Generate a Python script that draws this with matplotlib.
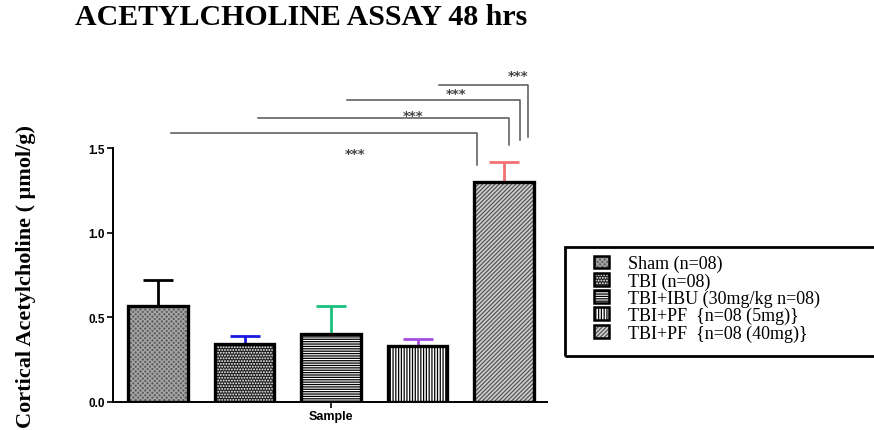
import matplotlib.pyplot as plt
from matplotlib.patches import Patch, Rectangle

groups = ["Sham (n=08)", "TBI (n=08)", "TBI+IBU (30mg/kg n=08)",
          "TBI+PF  {n=08 (5mg)}", "TBI+PF  {n=08 (40mg)}"]
means = [0.57, 0.34, 0.40, 0.33, 1.30]
sem = [0.15, 0.05, 0.17, 0.04, 0.12]
stars = ["***", "***", "***", "***"]

# styles
hatches = ["xxxxxxx", "......", "-------", "||||||", "////////"]
faces = ["#5e5e5e", "#1e1e1e", "white", "white", "#d0d0d0"]
hatch_colors = ["#a6a6a6", "white", "black", "black", "#555555"]
err_colors = ["black", "#1a1ae0", "#19c07a", "#a24de0", "#f07272"]

# bracket layout: (x_start, x_end, y_line, y_drop, star_x, star_y)
brackets = [
    (0.15, 3.69, 1.589, 1.40, 2.28, 1.47),
    (1.15, 4.06, 1.677, 1.518, 2.95, 1.69),
    (2.18, 4.18, 1.784, 1.548, 3.44, 1.82),
    (3.25, 4.28, 1.872, 1.565, 4.16, 1.93),
]

plt.rcParams["hatch.linewidth"] = 0.9
fig = plt.figure(figsize=(8.74, 4.31), dpi=100)
ax = fig.add_axes([0.1293, 0.065, 0.497, 0.589])

x = list(range(len(means)))
for i in x:
    # hatch layer, then the black outline on top
    ax.bar(i, means[i], width=0.69, color=faces[i], edgecolor=hatch_colors[i],
           hatch=hatches[i], linewidth=0, zorder=2)
    ax.bar(i, means[i], width=0.69, fill=False, edgecolor="black",
           linewidth=2.4, zorder=3)
    ax.errorbar(i, means[i], yerr=[[0], [sem[i]]], fmt="none",
                ecolor=err_colors[i], elinewidth=2, capsize=11, capthick=2,
                zorder=1)

for (x0, x1, yl, yd, sx, sy), s in zip(brackets, stars):
    ax.plot([x0, x1, x1], [yl, yl, yd], color="#555555", lw=1.1,
            clip_on=False)
    ax.text(sx, sy, s, ha="center", va="center", fontsize=9.5,
            fontweight="bold", color="#444444", clip_on=False)

ax.set_xlim(-0.52, 4.5)
ax.set_ylim(0, 1.5)
ax.set_yticks([0.0, 0.5, 1.0, 1.5])
ax.set_yticklabels(["0.0", "0.5", "1.0", "1.5"], fontsize=8.5,
                   fontweight="bold", family="Liberation Sans")
ax.set_xticks([2])
ax.set_xticklabels(["Sample"], fontsize=9, fontweight="bold",
                   family="Liberation Sans")
ax.tick_params(axis="both", length=4, width=1.2, pad=2)
for side in ["top", "right"]:
    ax.spines[side].set_visible(False)
for side in ["left", "bottom"]:
    ax.spines[side].set_linewidth(1.4)

fig.text(0.086, 0.96, "ACETYLCHOLINE ASSAY 48 hrs", fontsize=21.5,
         fontweight="bold", family="Liberation Serif", va="center")
fig.text(0.030, 0.358, "Cortical Acetylcholine ( \u03bcmol/g)", fontsize=16,
         fontweight="bold", family="Liberation Serif", rotation=90,
         ha="center", va="center")

# legend box runs past the right edge, as in the original
fig.patches.append(Rectangle((565 / 874, 1 - 357 / 431), 0.5, 109 / 431,
                             transform=fig.transFigure, fill=False,
                             edgecolor="black", linewidth=2))
handles = [(Patch(facecolor=faces[i], edgecolor=hatch_colors[i],
                  hatch=hatches[i], linewidth=0),
            Patch(fill=False, edgecolor="black", linewidth=1.8)) for i in x]
leg = fig.legend(handles, groups, loc="upper left",
                 bbox_to_anchor=(594 / 874, 1 - 256 / 431),
                 prop={"family": "Liberation Serif", "size": 13},
                 frameon=False, handlelength=0.85, handleheight=0.72,
                 handletextpad=1.05, labelspacing=0.0, borderpad=0,
                 borderaxespad=0)

fig.savefig("out.png", dpi=100)
